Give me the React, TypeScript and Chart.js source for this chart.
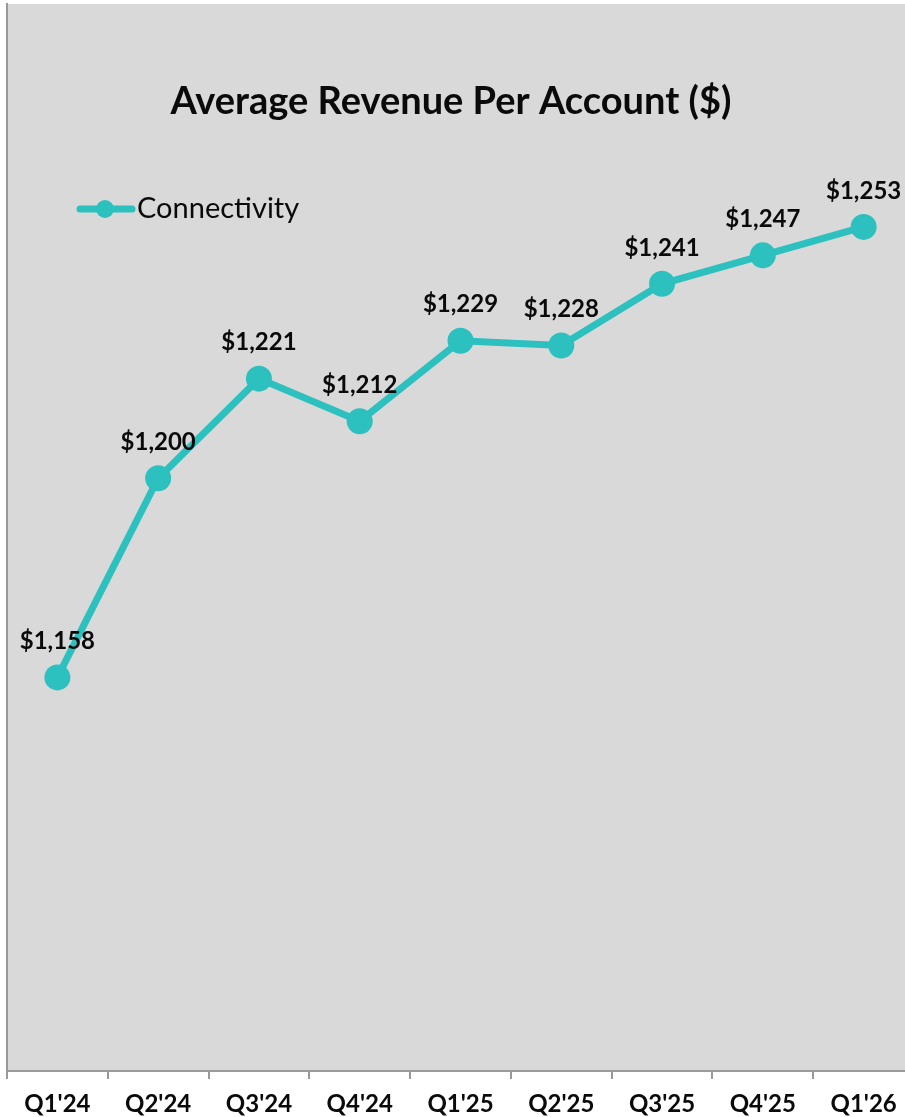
import React, { useEffect, useRef } from "react";
import { Chart, registerables } from "chart.js";

Chart.register(...registerables);

const categories = ["Q1'24", "Q2'24", "Q3'24", "Q4'24", "Q1'25", "Q2'25", "Q3'25", "Q4'25", "Q1'26"];
const connectivity = [1158, 1200, 1221, 1212, 1229, 1228, 1241, 1247, 1253];
const seriesName = "Connectivity";
const chartTitle = "Average Revenue Per Account ($)";

const TEAL = "#2cc0bf";
const TEXT = "#0a0a0a";
const FONT = "Lato, 'Noto Sans', sans-serif";

const decorPlugin = {
  id: "decor",
  beforeDraw(chart: any) {
    const { ctx, chartArea } = chart;
    ctx.save();
    ctx.fillStyle = "#d9d9d9";
    ctx.fillRect(chartArea.left, chartArea.top, chartArea.right - chartArea.left, chartArea.bottom - chartArea.top);
    ctx.restore();
  },
  afterDatasetsDraw(chart: any) {
    const { ctx } = chart;
    ctx.save();
    // title
    ctx.fillStyle = TEXT;
    ctx.font = `bold 38px ${FONT}`;
    ctx.textAlign = "center";
    ctx.textBaseline = "middle";
    ctx.fillText(chartTitle, 451, 102);
    // legend
    ctx.strokeStyle = TEAL;
    ctx.lineWidth = 7;
    ctx.lineCap = "round";
    ctx.beginPath();
    ctx.moveTo(80, 209);
    ctx.lineTo(132, 209);
    ctx.stroke();
    ctx.fillStyle = TEAL;
    ctx.beginPath();
    ctx.arc(105, 209, 9, 0, Math.PI * 2);
    ctx.fill();
    ctx.fillStyle = TEXT;
    ctx.font = `29px ${FONT}`;
    ctx.textAlign = "left";
    ctx.fillText(seriesName, 137, 209);
    // data labels
    const meta = chart.getDatasetMeta(0);
    ctx.font = `bold 24px ${FONT}`;
    ctx.textAlign = "center";
    meta.data.forEach((pt: any, i: number) => {
      const v = connectivity[i];
      ctx.fillText("$" + v.toLocaleString("en-US"), pt.x, pt.y - 36);
    });
    ctx.restore();
  },
};

export default function App() {
  const ref = useRef<HTMLCanvasElement | null>(null);
  useEffect(() => {
    if (!ref.current) return;
    const chart = new Chart(ref.current, {
      type: "line",
      data: {
        labels: categories,
        datasets: [
          {
            label: seriesName,
            data: connectivity,
            borderColor: TEAL,
            backgroundColor: TEAL,
            borderWidth: 7,
            pointRadius: 13,
            pointHoverRadius: 13,
            pointBackgroundColor: TEAL,
            pointBorderWidth: 0,
            tension: 0,
          },
        ],
      },
      options: {
        responsive: false,
        animation: false,
        layout: { autoPadding: false, padding: { left: 7, right: 6, top: 4, bottom: 0 } },
        plugins: {
          legend: { display: false },
          title: { display: false },
          tooltip: { enabled: false },
        },
        scales: {
          x: {
            type: "category",
            offset: true,
            grid: {
              offset: true,
              drawOnChartArea: false,
              drawTicks: true,
              tickLength: 8,
              color: "#999",
              lineWidth: 2,
            },
            border: { display: true, color: "#999", width: 2 },
            ticks: {
              color: TEXT,
              font: { family: FONT, size: 24, weight: "bold" },
              padding: 11,
              maxRotation: 0,
              autoSkip: false,
            },
            afterFit(scale: any) {
              scale.height = 46;
            },
          },
          y: {
            min: 1075,
            max: 1300,
            grid: { display: false, drawTicks: false },
            border: { display: true, color: "#999", width: 2 },
            ticks: { display: false },
            afterFit(scale: any) {
              scale.width = 0;
            },
          },
        },
      },
      plugins: [decorPlugin],
    });
    return () => chart.destroy();
  }, []);
  return (
    <div style={{ position: "absolute", left: 0, top: 0, width: 905, height: 1117, overflow: "hidden", background: "#fff" }}>
      <canvas ref={ref} width={920} height={1117} style={{ display: "block", width: 920, height: 1117 }} />
    </div>
  );
}
